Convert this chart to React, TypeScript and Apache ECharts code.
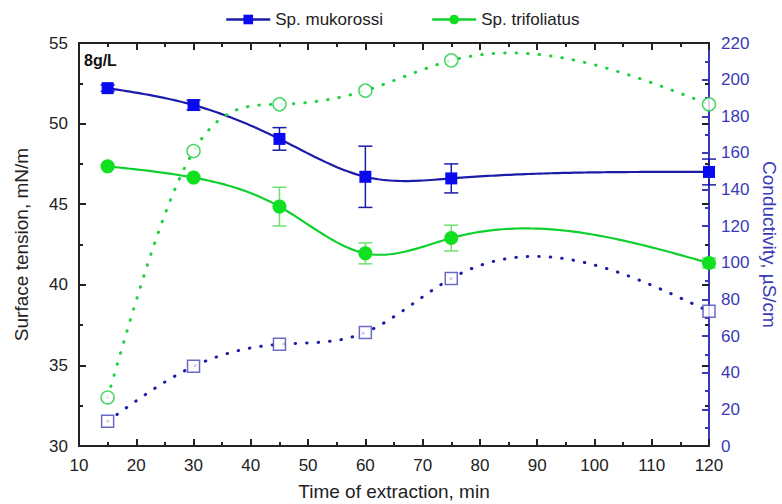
import React, { useEffect, useRef } from "react";
import * as echarts from "echarts";

const times = [15, 30, 45, 60, 75, 120];
const mukTension = [52.2, 51.15, 49.05, 46.7, 46.6, 47.0];
const mukTensionErr = [0.2, 0.3, 0.7, 1.9, 0.9, 0.8];
const triTension = [47.35, 46.65, 44.85, 41.95, 42.9, 41.35];
const triTensionErr = [0.1, 0.1, 1.2, 0.65, 0.8, 0.3];
const mukConductivity = [13.5, 43.5, 55.5, 62, 91.5, 73.5];
const triConductivity = [26.5, 161, 186.5, 194, 210.5, 186.5];
const xTicks = [10, 20, 30, 40, 50, 60, 70, 80, 90, 100, 110, 120];

const FONT = "Liberation Sans, Arial, sans-serif";
const BLUE = "#0a0af0";
const NAVY = "#1c1ca8";
const GREEN = "#10e020";
const GREEN_LINE = "#10d030";
const AXIS_BLUE = "#3a3ab8";

// natural cubic spline through pixel points (rendering of the connecting line only)
function splinePoints(pts: number[][], samples = 160): number[][] {
  const n = pts.length;
  const x = pts.map((p) => p[0]);
  const y = pts.map((p) => p[1]);
  const h: number[] = [];
  for (let i = 0; i < n - 1; i++) h.push(x[i + 1] - x[i]);
  const a = new Array(n).fill(0), b = new Array(n).fill(0), c = new Array(n).fill(0), d = new Array(n).fill(0);
  b[0] = 1; b[n - 1] = 1;
  for (let i = 1; i < n - 1; i++) {
    a[i] = h[i - 1];
    b[i] = 2 * (h[i - 1] + h[i]);
    c[i] = h[i];
    d[i] = 6 * ((y[i + 1] - y[i]) / h[i] - (y[i] - y[i - 1]) / h[i - 1]);
  }
  const cp = new Array(n).fill(0), dp = new Array(n).fill(0);
  cp[0] = c[0] / b[0]; dp[0] = d[0] / b[0];
  for (let i = 1; i < n; i++) {
    const m = b[i] - a[i] * cp[i - 1];
    cp[i] = c[i] / m;
    dp[i] = (d[i] - a[i] * dp[i - 1]) / m;
  }
  const M = new Array(n).fill(0);
  M[n - 1] = dp[n - 1];
  for (let i = n - 2; i >= 0; i--) M[i] = dp[i] - cp[i] * M[i + 1];
  const out: number[][] = [];
  for (let s = 0; s <= samples; s++) {
    const xv = x[0] + ((x[n - 1] - x[0]) * s) / samples;
    let i = 0;
    while (i < n - 2 && xv > x[i + 1]) i++;
    const t1 = x[i + 1] - xv, t2 = xv - x[i];
    const hi = h[i];
    const yv =
      (M[i] * t1 * t1 * t1) / (6 * hi) +
      (M[i + 1] * t2 * t2 * t2) / (6 * hi) +
      (y[i] / hi - (M[i] * hi) / 6) * t1 +
      (y[i + 1] / hi - (M[i + 1] * hi) / 6) * t2;
    out.push([xv, yv]);
  }
  return out;
}

function curveSeries(values: number[], yAxisIndex: number, color: string, dotted: boolean) {
  return {
    type: "custom",
    yAxisIndex,
    silent: true,
    clip: false,
    z: 2,
    data: [[times[0], values[0]]],
    renderItem: (_params: any, api: any) => {
      const pts = times.map((t, i) => api.coord([t, values[i]]));
      return {
        type: "polyline",
        shape: { points: splinePoints(pts) },
        style: dotted
          ? { stroke: color, lineWidth: 3, fill: null, lineDash: [0.5, 11], lineCap: "round" }
          : { stroke: color, lineWidth: 2.2, fill: null },
      };
    },
  };
}

function errorSeries(values: number[], errs: number[], color: string) {
  return {
    type: "custom",
    silent: true,
    z: 3,
    data: times.map((t, i) => [t, values[i], errs[i]]),
    renderItem: (_params: any, api: any) => {
      const x = api.value(0), y = api.value(1), e = api.value(2);
      const hi = api.coord([x, y + e]);
      const lo = api.coord([x, y - e]);
      const w = 7;
      const st = { stroke: color, lineWidth: 1.5 };
      return {
        type: "group",
        children: [
          { type: "line", shape: { x1: hi[0], y1: hi[1], x2: lo[0], y2: lo[1] }, style: st },
          { type: "line", shape: { x1: hi[0] - w, y1: hi[1], x2: hi[0] + w, y2: hi[1] }, style: st },
          { type: "line", shape: { x1: lo[0] - w, y1: lo[1], x2: lo[0] + w, y2: lo[1] }, style: st },
        ],
      };
    },
  };
}

export default function App() {
  const ref = useRef<HTMLDivElement>(null);
  useEffect(() => {
    if (!ref.current) return;
    const chart = echarts.init(ref.current, null, { renderer: "svg" });
    const axisLabel = { fontFamily: FONT, fontSize: 17, color: "#222" };
    const blackTick = { inside: true, length: 7, lineStyle: { width: 2, color: "#222" } };
    const blackMinor = { show: true, splitNumber: 2, length: 4, lineStyle: { width: 2, color: "#222" } };
    chart.setOption({
      animation: false,
      backgroundColor: "#fff",
      textStyle: { fontFamily: FONT },
      legend: {
        left: 220,
        top: 6,
        itemWidth: 44,
        itemHeight: 12,
        itemGap: 48,
        textStyle: { fontFamily: FONT, fontSize: 17, color: "#222" },
        data: [
          { name: "Sp. mukorossi", lineStyle: { opacity: 1, width: 2.5, color: NAVY } },
          { name: "Sp. trifoliatus", lineStyle: { opacity: 1, width: 2.5, color: GREEN_LINE } },
        ],
      },
      grid: { left: 79, right: 73, top: 43, bottom: 58, containLabel: false, outerBoundsMode: "none" },
      xAxis: [
        {
          type: "value",
          min: 10,
          max: 120,
          interval: 10,
          name: "Time of extraction, min",
          nameLocation: "middle",
          nameGap: 36,
          nameTextStyle: { fontFamily: FONT, fontSize: 19, color: "#222" },
          axisLine: { lineStyle: { color: "#222", width: 2 } },
          axisTick: blackTick,
          minorTick: blackMinor,
          axisLabel: { ...axisLabel, margin: 11, customValues: xTicks },
          splitLine: { show: false },
        },
        {
          type: "value",
          position: "top",
          min: 10,
          max: 120,
          interval: 10,
          axisLine: { show: true, lineStyle: { color: "#222", width: 2 } },
          axisTick: blackTick,
          minorTick: blackMinor,
          axisLabel: { show: false },
          splitLine: { show: false },
        },
      ],
      yAxis: [
        {
          type: "value",
          min: 30,
          max: 55,
          interval: 5,
          name: "Surface tension, mN/m",
          nameLocation: "middle",
          nameGap: 48,
          nameTextStyle: { fontFamily: FONT, fontSize: 19, color: "#222" },
          axisLine: { show: true, lineStyle: { color: "#222", width: 2 } },
          axisTick: blackTick,
          minorTick: blackMinor,
          axisLabel: { ...axisLabel, margin: 11 },
          splitLine: { show: false },
        },
        {
          type: "value",
          position: "right",
          min: 0,
          max: 220,
          interval: 20,
          name: "Conductivity, µS/cm",
          nameLocation: "middle",
          nameRotate: -90,
          nameGap: 50,
          nameTextStyle: { fontFamily: FONT, fontSize: 19, color: AXIS_BLUE },
          axisLine: { show: true, lineStyle: { color: AXIS_BLUE, width: 2 } },
          axisTick: { inside: true, length: 7, lineStyle: { width: 2, color: AXIS_BLUE } },
          minorTick: { show: true, splitNumber: 2, length: 4, lineStyle: { width: 2, color: AXIS_BLUE } },
          axisLabel: { ...axisLabel, color: AXIS_BLUE, margin: 12 },
          splitLine: { show: false },
        },
        {
          type: "value",
          position: "right",
          min: 30,
          max: 55,
          interval: 5,
          axisLine: { show: false },
          axisTick: blackTick,
          minorTick: blackMinor,
          axisLabel: { show: false },
          splitLine: { show: false },
        },
      ],
      graphic: [
        {
          type: "text",
          left: 84,
          top: 52,
          style: { text: "8g/L", font: `bold 16px ${FONT}`, fill: "#111" },
        },
      ],
      series: [
        curveSeries(mukTension, 0, NAVY, false),
        curveSeries(triTension, 0, GREEN_LINE, false),
        curveSeries(mukConductivity, 1, NAVY, true),
        curveSeries(triConductivity, 1, "#20d040", true),
        errorSeries(mukTension, mukTensionErr, NAVY),
        errorSeries(triTension, triTensionErr, "#70e070"),
        {
          name: "Sp. mukorossi",
          type: "line",
          yAxisIndex: 0,
          z: 5,
          data: times.map((t, i) => [t, mukTension[i]]),
          symbol: "rect",
          symbolSize: 12,
          showSymbol: true,
          lineStyle: { opacity: 0, color: NAVY },
          itemStyle: { color: BLUE },
        },
        {
          name: "Sp. trifoliatus",
          type: "line",
          yAxisIndex: 0,
          z: 5,
          data: times.map((t, i) => [t, triTension[i]]),
          symbol: "circle",
          symbolSize: 14,
          showSymbol: true,
          lineStyle: { opacity: 0, color: GREEN_LINE },
          itemStyle: { color: GREEN },
        },
        {
          name: "mukCond",
          type: "scatter",
          yAxisIndex: 1,
          z: 5,
          data: times.map((t, i) => [t, mukConductivity[i]]),
          symbol: "rect",
          symbolSize: 12,
          itemStyle: { color: "#fff", borderColor: "#4646b4", borderWidth: 1.5 },
        },
        {
          name: "triCond",
          type: "scatter",
          yAxisIndex: 1,
          z: 5,
          data: times.map((t, i) => [t, triConductivity[i]]),
          symbol: "circle",
          symbolSize: 13,
          itemStyle: { color: "#fff", borderColor: "#22cc44", borderWidth: 1.5 },
        },
      ],
    });
    return () => chart.dispose();
  }, []);
  return (
    <div
      ref={ref}
      style={{ position: "absolute", left: 0, top: 0, width: 782, height: 504 }}
    />
  );
}
